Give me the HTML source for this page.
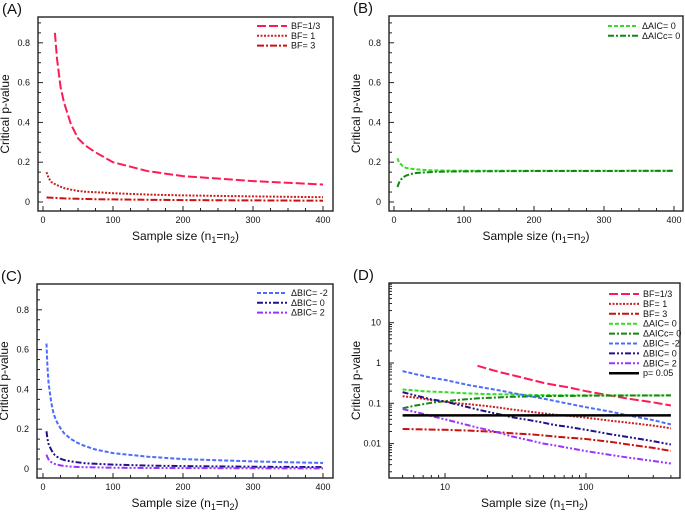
<!DOCTYPE html>
<html><head><meta charset="utf-8"><style>
body{margin:0;background:#fff;width:685px;height:512px;overflow:hidden}
svg{font-family:"Liberation Sans",sans-serif}
</style></head><body>
<svg id="s" width="685" height="512" xmlns="http://www.w3.org/2000/svg"></svg>
<script>
const nVals=[5,6,7,8,10,12,15,17,20,25,30,40,50,60,75,100,150,200,300,400];
const bfThird=[null,null,null,null,null,null,null,0.85,0.72,0.58,0.50,0.39,0.32,0.285,0.25,0.20,0.155,0.13,0.105,0.088];
const bfOne=[0.15,0.14,0.13,0.12,0.11,0.10,0.095,0.09,0.085,0.077,0.07,0.062,0.056,0.052,0.049,0.044,0.037,0.033,0.028,0.024];
const bfThree=[0.023,0.0228,0.0225,0.0223,0.022,0.0215,0.021,0.0205,0.02,0.019,0.018,0.017,0.016,0.015,0.014,0.013,0.011,0.0095,0.0078,0.0066];
const aic0=[0.22,0.21,0.20,0.195,0.19,0.182,0.175,0.172,0.17,0.167,0.165,0.162,0.16,0.159,0.158,0.157,0.157,0.157,0.157,0.157];
const aicc0=[0.075,0.086,0.095,0.103,0.113,0.12,0.128,0.132,0.136,0.141,0.145,0.148,0.15,0.152,0.153,0.154,0.155,0.156,0.156,0.157];
const bicM2=[0.63,0.54,0.48,0.43,0.38,0.33,0.28,0.26,0.235,0.205,0.18,0.15,0.13,0.115,0.098,0.08,0.062,0.05,0.038,0.030];
const bic0=[0.19,0.16,0.14,0.125,0.11,0.095,0.078,0.07,0.062,0.052,0.045,0.038,0.033,0.029,0.026,0.022,0.017,0.0145,0.0115,0.0095];
const bic2=[0.072,0.062,0.055,0.048,0.04,0.034,0.028,0.025,0.022,0.018,0.015,0.012,0.01,0.009,0.0078,0.0065,0.0052,0.0045,0.0037,0.0032];
const pThresh=[0.05,0.05];
const pThreshN=[5,400];
const linXTicks=[0,100,200,300,400];
const linYTicks=[0,0.2,0.4,0.6,0.8];
const logXTicks=[10,100];
const logYTicks=[0.01,0.1,1,10];
const logYLabels=["0.01","0.1","1","10"];

const S=[
 {name:"BF=1/3",d:bfThird,c:"#ff1a55",da:"9,3",k:"bf-1-3"},
 {name:"BF= 1",d:bfOne,c:"#cc2020",da:"2,1.5",k:"bf-1"},
 {name:"BF= 3",d:bfThree,c:"#cc1010",da:"7,2,2,2",k:"bf-3"},
 {name:"\u0394AIC= 0",d:aic0,c:"#33dd22",da:"4,2",k:"aic-0"},
 {name:"\u0394AICc= 0",d:aicc0,c:"#118811",da:"6,2,2,2",k:"aicc-0"},
 {name:"\u0394BIC= -2",d:bicM2,c:"#4a6cff",da:"4,2",k:"bic-m2"},
 {name:"\u0394BIC= 0",d:bic0,c:"#221188",da:"6,2,2,2,2,2",k:"bic-0"},
 {name:"\u0394BIC= 2",d:bic2,c:"#9933ff",da:"6,2,2,2,2,2",k:"bic-2"}
];
const svg=document.getElementById('s');
const NS="http://www.w3.org/2000/svg";
function el(t,a,p){const e=document.createElementNS(NS,t);for(const k in a)e.setAttribute(k,a[k]);(p||svg).appendChild(e);return e;}

function panel(cfg){
 const g=el('g',{});
 
 
 const {x0,x1,y0,y1}=cfg.box;
 let sx,sy;
 if(cfg.log){
  sx=v=>cfg.xa+(Math.log10(v)-1)*cfg.xd;
  sy=v=>cfg.ya-Math.log10(v)*cfg.yd;
 }else{
  sx=v=>cfg.xa+v*cfg.xs;
  sy=v=>cfg.ya-v*cfg.ys;
 }
 const lab=el('text',{x:cfg.box.x0-36,y:y0-3,'font-size':15,fill:'#111'},g);lab.textContent='('+cfg.id.toUpperCase()+')';
 
 
 const frame=el('rect',{x:x0,y:y0,width:x1-x0,height:y1-y0,fill:'none',stroke:'#222','stroke-width':1.4},g);
 
 
 const ax=el('g',{},g);
 
 
 if(cfg.log){
  for(let e=0;e<3;e++)for(let m=1;m<10;m++){const v=m*Math.pow(10,e);const x=sx(v);if(x<x0||x>x1)continue;const L=m==1?5:3;el('line',{x1:x,x2:x,y1:y1,y2:y1-L,stroke:'#222'},ax);}
  for(let e=-3;e<2;e++)for(let m=1;m<10;m++){const v=m*Math.pow(10,e);const y=sy(v);if(y<y0||y>y1)continue;const L=m==1?5:3;el('line',{x1:x0,x2:x0+L,y1:y,y2:y,stroke:'#222'},ax);}
  logXTicks.forEach(v=>{const t=el('text',{x:sx(v),y:y1+12,'font-size':9,'text-anchor':'middle',fill:'#111'},ax);t.textContent=v;});
  logYTicks.forEach((v,i)=>{const t=el('text',{x:x0-8,y:sy(v)+3,'font-size':9,'text-anchor':'end',fill:'#111'},ax);t.textContent=logYLabels[i];});
 }else{
  for(let v=0;v<=410;v+=25){const x=sx(v);if(x>x1)break;el('line',{x1:x,x2:x,y1:y1,y2:y1-(v%100==0?5:3),stroke:'#222'},ax);}
  for(let v=0;v<=0.95;v+=0.05){const y=sy(v);if(y<y0)break;el('line',{x1:x0,x2:x0+(Math.round(v*100)%20==0?5:3),y1:y,y2:y,stroke:'#222'},ax);}
  linXTicks.forEach(v=>{const t=el('text',{x:sx(v),y:y1+12,'font-size':9,'text-anchor':'middle',fill:'#111'},ax);t.textContent=v;});
  linYTicks.forEach(v=>{const t=el('text',{x:x0-8,y:sy(v)+3,'font-size':9,'text-anchor':'end',fill:'#111'},ax);t.textContent=v;});
 }
 const xt=el('text',{x:(x0+x1)/2,y:y1+29,'font-size':12,'text-anchor':'middle',fill:'#111'},g);
 xt.innerHTML='Sample size (n<tspan font-size="9" dy="3">1</tspan><tspan dy="-3">=n</tspan><tspan font-size="9" dy="3">2</tspan><tspan dy="-3">)</tspan>';
 
 
 const yt=el('text',{transform:`translate(${x0-29},${(y0+y1)/2}) rotate(-90)`,'font-size':12,'text-anchor':'middle',fill:'#111'},g);
 yt.textContent='Critical p-value';
 
 
 const lg=el('g',{},g);
 
 
 cfg.series.forEach((s,i)=>{
  let pts=[];
  nVals.forEach((n,j)=>{const v=s.d[j];if(v!=null)pts.push(sx(n).toFixed(1)+','+sy(v).toFixed(1));});
  const pl=el('polyline',{points:pts.join(' '),fill:'none',stroke:s.c,'stroke-width':2,'stroke-dasharray':s.da,'stroke-linejoin':'round'},g);
  
  
  const ly=cfg.lg.y+i*cfg.lg.dy;
  const ll=el('line',{x1:cfg.lg.x,x2:cfg.lg.x+30,y1:ly,y2:ly,stroke:s.c,'stroke-width':2,'stroke-dasharray':s.da},lg);
  
  
  const lt=el('text',{x:cfg.lg.x+34,y:ly+3,'font-size':9,fill:'#111'},lg);lt.textContent=s.name;
  
  
 });
 if(cfg.thresh){
  const pts=pThreshN.map((n,j)=>sx(n).toFixed(1)+','+sy(pThresh[j]).toFixed(1)).join(' ');
  const pl=el('polyline',{points:pts,fill:'none',stroke:'#000','stroke-width':2.5},g);
  
  
  const ly=cfg.lg.y+cfg.series.length*cfg.lg.dy;
  const ll=el('line',{x1:cfg.lg.x,x2:cfg.lg.x+30,y1:ly,y2:ly,stroke:'#000','stroke-width':2.5},lg);
  
  
  const lt=el('text',{x:cfg.lg.x+34,y:ly+3,'font-size':9,fill:'#111'},lg);lt.textContent='p= 0.05';
  
  
 }
}
panel({id:'a',box:{x0:38,x1:333,y0:17,y1:211},xa:43,xs:0.7,ya:202,ys:199,series:S.slice(0,3),lg:{x:257,y:26,dy:9.8}});
panel({id:'b',box:{x0:389,x1:683,y0:16,y1:211},xa:394,xs:0.7,ya:202,ys:199,series:S.slice(3,5),lg:{x:608,y:26,dy:9.8}});
panel({id:'c',box:{x0:37,x1:333,y0:284,y1:478},xa:43,xs:0.7,ya:469,ys:199,series:S.slice(5,8),lg:{x:257,y:293,dy:9.8}});
panel({id:'d',box:{x0:389,x1:680,y0:283,y1:478},log:true,xa:445,xd:141,ya:363,yd:40.3,series:S,thresh:true,lg:{x:609,y:294,dy:9.9}});
</script>
</body></html>
